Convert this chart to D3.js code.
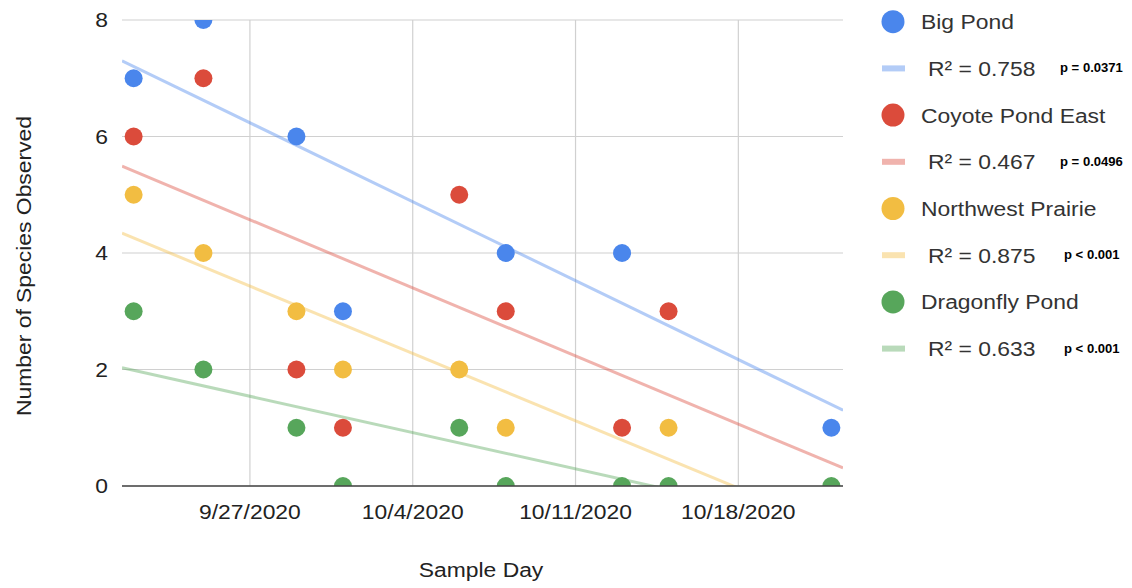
<!DOCTYPE html>
<html>
<head>
<meta charset="utf-8">
<script src="https://cdn.jsdelivr.net/npm/d3@7"></script>
<style>
	body { margin: 0; background: #fff; }
	text { font-family: "Liberation Sans", Arial, sans-serif; fill: #222; }
	.grid line { stroke: #d0d0d0; stroke-width: 1.2; }
</style>
</head>
<body>
<div id="chart"></div>
<script>

// Sample days
var sampleDays = ["2020-09-22", "2020-09-25", "2020-09-29", "2020-10-01", "2020-10-06",
	"2020-10-08", "2020-10-13", "2020-10-15", "2020-10-22"];

// Species counts per site (null = no dot visible)
var bigPond      = [7, 8, 6, 3, null, 4, 4, null, 1];
var coyotePond   = [6, 7, 2, 1, 5, 3, 1, 3, null];
var nwPrairie    = [5, 4, 3, 2, 2, 1, null, 1, null];
var dragonfly    = [3, 2, 1, 0, 1, 0, 0, 0, 0];

var siteNames = ["Big Pond", "Coyote Pond East", "Northwest Prairie", "Dragonfly Pond"];
var siteColors = ["#4a86ec", "#db4b3b", "#f2bd42", "#57a65b"];

// Trendline values read at the left / right edge of the plot
var trendStart = [7.30, 5.49, 4.34, 2.03];
var trendEnd   = [1.30, 0.31, -0.78, -0.73];

var rSquared = ["R² = 0.758", "R² = 0.467", "R² = 0.875", "R² = 0.633"];
var pValues  = ["p = 0.0371", "p = 0.0496", "p < 0.001", "p < 0.001"];

var xTicks = ["2020-09-27", "2020-10-04", "2020-10-11", "2020-10-18"];
var yTicks = [0, 2, 4, 6, 8];

var parseDay = d3.timeParse("%Y-%m-%d");
var fmtDay = d3.timeFormat("%-m/%-d/%Y");

var width = 1132, height = 588;
var margin = { top: 20, right: 289, bottom: 102, left: 122 };
var plotW = width - margin.left - margin.right,
	plotH = height - margin.top - margin.bottom;

// text in the original is drawn a little wider than Arial
var stretch = "scale(1.09,1)";

var svg = d3.select("#chart").append("svg")
		.attr("width", width)
		.attr("height", height);

var g = svg.append("g")
		.attr("transform", "translate(" + margin.left + "," + margin.top + ")");

// Scales
var x = d3.scaleTime()
	.domain([d3.timeHour.offset(parseDay("2020-09-21"), 12), d3.timeHour.offset(parseDay("2020-10-22"), 12)])
	.range([0, plotW]);

var y = d3.scaleLinear()
	.domain([0, 8])
	.range([plotH, 0]);

g.append("defs").append("clipPath")
	.attr("id", "clip")
	.append("rect")
	.attr("width", plotW)
	.attr("height", plotH);

// Grid
g.append("g")
	.attr("class", "grid")
	.selectAll("line.h")
	.data(yTicks)
	.enter().append("line")
	.attr("x1", 0).attr("x2", plotW)
	.attr("y1", function(d) { return y(d); })
	.attr("y2", function(d) { return y(d); });

g.append("g")
	.attr("class", "grid")
	.selectAll("line.v")
	.data(xTicks)
	.enter().append("line")
	.attr("x1", function(d) { return x(parseDay(d)); })
	.attr("x2", function(d) { return x(parseDay(d)); })
	.attr("y1", 0).attr("y2", plotH);

// Tick labels
g.selectAll(".ylab")
	.data(yTicks)
	.enter().append("text")
	.attr("class", "ylab")
	.attr("transform", function(d) { return "translate(-14," + y(d) + ") " + stretch; })
	.attr("dy", "0.35em")
	.attr("text-anchor", "end")
	.style("font-size", "21px")
	.text(function(d) { return d; });

g.selectAll(".xlab")
	.data(xTicks)
	.enter().append("text")
	.attr("class", "xlab")
	.attr("transform", function(d) { return "translate(" + x(parseDay(d)) + "," + (plotH + 33) + ") " + stretch; })
	.attr("text-anchor", "middle")
	.style("font-size", "21px")
	.text(function(d) { return fmtDay(parseDay(d)); });

// Axis titles
svg.append("text")
	.attr("transform", "translate(481,577) " + stretch)
	.attr("text-anchor", "middle")
	.style("font-size", "21px")
	.text("Sample Day");

svg.append("text")
	.attr("transform", "translate(31,266) rotate(-90) " + stretch)
	.attr("text-anchor", "middle")
	.style("font-size", "21px")
	.text("Number of Species Observed");

var series = [bigPond, coyotePond, nwPrairie, dragonfly];

var plot = g.append("g").attr("clip-path", "url(#clip)");

// Trendlines
plot.selectAll(".trend")
	.data(series)
	.enter().append("line")
	.attr("class", "trend")
	.attr("x1", x.range()[0])
	.attr("x2", x.range()[1])
	.attr("y1", function(d, i) { return y(trendStart[i]); })
	.attr("y2", function(d, i) { return y(trendEnd[i]); })
	.attr("stroke", function(d, i) { return siteColors[i]; })
	.attr("stroke-opacity", 0.42)
	.attr("stroke-width", 3);

// Dots
series.forEach(function(vals, i) {
	var pts = vals.map(function(v, j) { return { day: parseDay(sampleDays[j]), v: v }; })
		.filter(function(d) { return d.v !== null; });

	plot.selectAll(".dot-" + i)
		.data(pts)
		.enter().append("circle")
		.attr("class", "dot-" + i)
		.attr("cx", function(d) { return x(d.day); })
		.attr("cy", function(d) { return y(d.v); })
		.attr("r", 9)
		.attr("fill", siteColors[i]);
});

// Baseline
g.append("line")
	.attr("x1", 0).attr("x2", plotW)
	.attr("y1", y(0)).attr("y2", y(0))
	.attr("stroke", "#444")
	.attr("stroke-width", 1.6);

// Legend
var legend = svg.append("g");
var rowStep = 46.7, legTop = 21.7;

siteNames.forEach(function(name, i) {
	var yDot = legTop + i * 2 * rowStep,
		yLine = yDot + rowStep;

	legend.append("circle")
		.attr("cx", 893).attr("cy", yDot)
		.attr("r", 11.5)
		.attr("fill", siteColors[i]);

	legend.append("text")
		.attr("transform", "translate(921," + (yDot + 7.5) + ") " + stretch)
		.style("font-size", "21px")
		.style("fill", "#333")
		.text(name);

	legend.append("rect")
		.attr("x", 882).attr("y", yLine - 3)
		.attr("width", 23).attr("height", 6)
		.attr("fill", siteColors[i])
		.attr("fill-opacity", 0.42);

	legend.append("text")
		.attr("transform", "translate(928," + (yLine + 7.5) + ") " + stretch)
		.style("font-size", "21px")
		.style("fill", "#333")
		.text(rSquared[i]);

	legend.append("text")
		.attr("transform", "translate(" + (pValues[i].indexOf("<") > 0 ? 1064 : 1060) + "," + (yLine + 4) + ") " + stretch)
		.style("font-size", "12px")
		.style("font-weight", "bold")
		.style("fill", "#000")
		.text(pValues[i]);
});

</script>
</body>
</html>
